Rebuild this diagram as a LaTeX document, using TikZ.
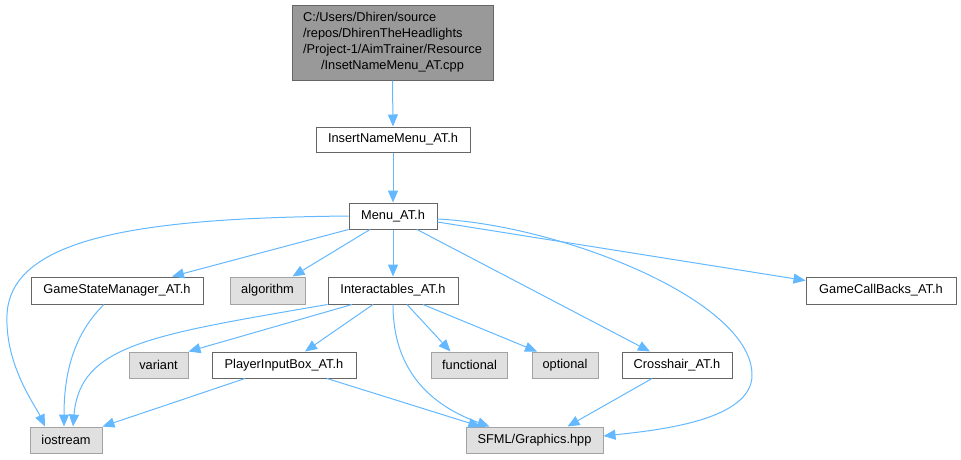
\documentclass[tikz,border=0pt]{standalone}
\usepackage{fontspec}
\setmainfont{Liberation Sans}
\usepackage{tikz}
\usetikzlibrary{arrows.meta,positioning,calc}
\usepackage{xcolor}
\definecolor{edgeblue}{RGB}{99,184,255}
\definecolor{rootgray}{RGB}{153,153,153}
\definecolor{extgray}{RGB}{224,224,224}
\definecolor{framegray}{RGB}{102,102,102}

\begin{document}
\begin{tikzpicture}[
    x=1pt, y=-1pt,
    filebox/.style={draw=framegray, fill=white, line width=1pt, inner sep=0pt, minimum height=26pt, font=\fontsize{12.8}{16}\selectfont},
    extbox/.style={filebox, draw=rootgray!90, fill=extgray},
    rootbox/.style={filebox, fill=rootgray},
    inc/.style={draw=edgeblue, line width=1pt, -{Triangle[length=12pt,width=10pt]}}
]
    \useasboundingbox (0,0) rectangle (961,459);

    % Source file (top)
    \node[rootbox, minimum width=201pt, minimum height=75pt] (root) at (392.5,42.5) {%
        \begin{tabular}{@{}l@{}}
        C:/Users/Dhiren/source\\
        /repos/DhirenTheHeadlights\\
        /Project-1/AimTrainer/Resource\\
        \multicolumn{1}{@{}c@{}}{/InsetNameMenu\_AT.cpp}
        \end{tabular}};

    % Headers of the project
    \node[filebox, minimum width=154pt, minimum height=25pt] (insert) at (393,139.5) {InsertNameMenu\_AT.h};
    \node[filebox, minimum width=88pt] (menu) at (393,216) {Menu\_AT.h};
    \node[filebox, minimum width=172pt, minimum height=27pt] (gsm) at (117,290.5) {GameStateManager\_AT.h};
    \node[filebox, minimum width=130pt, minimum height=27pt] (inter) at (393,290.5) {Interactables\_AT.h};
    \node[filebox, minimum width=150pt, minimum height=27pt] (gcb) at (881,290.5) {GameCallBacks\_AT.h};
    \node[filebox, minimum width=144pt] (pib) at (284,365) {PlayerInputBox\_AT.h};
    \node[filebox, minimum width=110pt] (cross) at (677,365) {Crosshair\_AT.h};

    % System headers (gray)
    \node[extbox, minimum width=75pt, minimum height=27pt] (algo) at (267.5,290.5) {algorithm};
    \node[extbox, minimum width=59pt] (variant) at (158.5,365) {variant};
    \node[extbox, minimum width=76pt] (func) at (469.5,365) {functional};
    \node[extbox, minimum width=66pt] (opt) at (565,365) {optional};
    \node[extbox, minimum width=72pt] (ios) at (66,440) {iostream};
    \node[extbox, minimum width=137pt] (sfml) at (534.5,440) {SFML/Graphics.hpp};

    % Includes from the top
    \draw[inc] (root.south) -- (insert.north);
    \draw[inc] (insert.south) -- (menu.north);

    % Includes of Menu_AT.h
    \draw[inc] (menu.west) .. controls (150,218) and (10,235) .. (7,315)
        .. controls (5,365) and (35,405) .. ([xshift=-21pt]ios.north);
    \draw[inc] (menu.south west) -- ([xshift=55pt]gsm.north);
    \draw[inc] ([xshift=-23pt]menu.south) -- ([xshift=25pt]algo.north);
    \draw[inc] (menu.south) -- (inter.north);
    \draw[inc] ([xshift=24pt]menu.south) -- ([xshift=-27pt]cross.north);
    \draw[inc] ([yshift=-3pt]menu.east) .. controls (560,225) and (752,300) .. (752,375)
        .. controls (752,420) and (660,430) .. ([yshift=4pt]sfml.east);
    \draw[inc] ([yshift=-6pt]menu.east) -- ([yshift=10pt]gcb.west);

    % Includes of GameStateManager_AT.h
    \draw[inc] ([xshift=-13pt]gsm.south) .. controls (78,330) and (64,365) .. ([xshift=-2pt]ios.north);

    % Includes of Interactables_AT.h
    \draw[inc] (inter.south west) .. controls (150,335) and (80,345) .. ([xshift=7pt]ios.north);
    \draw[inc] ([xshift=-41pt]inter.south) -- (variant.north east);
    \draw[inc] ([xshift=-20pt]inter.south) -- ([xshift=21pt]pib.north);
    \draw[inc] (inter.south) .. controls (393,370) and (430,405) .. ([xshift=-45pt]sfml.north);
    \draw[inc] ([xshift=14pt]inter.south) -- ([xshift=-19pt]func.north);
    \draw[inc] ([xshift=30pt]inter.south) -- ([xshift=-28pt]opt.north);

    % Includes of PlayerInputBox_AT.h and Crosshair_AT.h
    \draw[inc] ([xshift=-39pt]pib.south) -- (ios.north east);
    \draw[inc] ([xshift=43pt]pib.south) -- ([xshift=-54pt]sfml.north);
    \draw[inc] ([xshift=-25pt]cross.south) -- ([xshift=33pt]sfml.north);

\end{tikzpicture}
\end{document}
